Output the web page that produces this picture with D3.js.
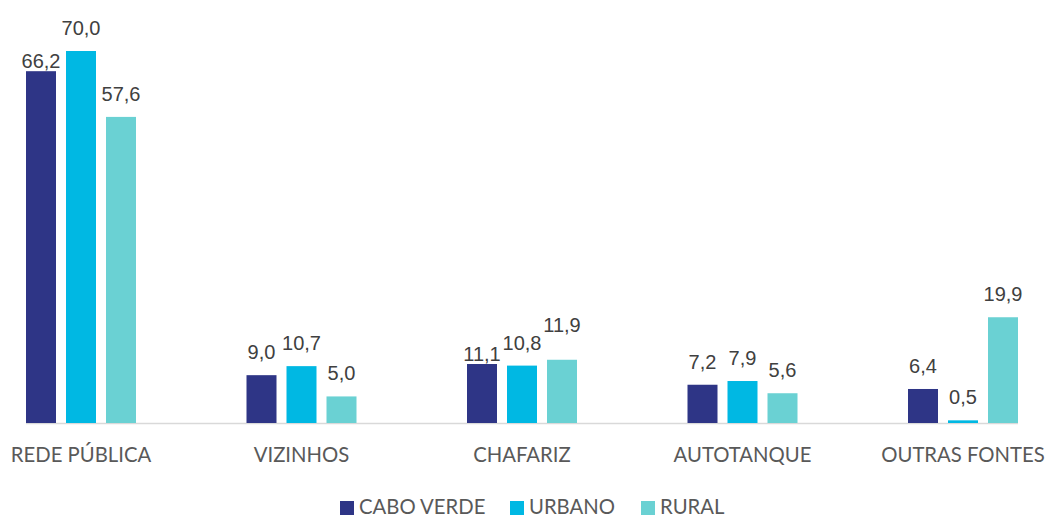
<!DOCTYPE html>
<html>
<head>
<meta charset="utf-8">
<title></title>
<style>
body { margin: 0; background: #fff; }
.val { fill: #404040; font: 20px "Liberation Sans", Arial, sans-serif; }
.cat { fill: #595959; font: 20.3px Lato, sans-serif; }
.leg { fill: #595959; font: 20.3px Lato, sans-serif; }
</style>
</head>
<body>
<script src="https://cdn.jsdelivr.net/npm/d3@7"></script>
<script>

var categories = ["REDE PÚBLICA", "VIZINHOS", "CHAFARIZ", "AUTOTANQUE", "OUTRAS FONTES"];
var series = ["CABO VERDE", "URBANO", "RURAL"];
var caboVerde = [66.2, 9.0, 11.1, 7.2, 6.4];
var urbano = [70.0, 10.7, 10.8, 7.9, 0.5];
var rural = [57.6, 5.0, 11.9, 5.6, 19.9];
// labels the original moved to dodge their neighbours
var lowLabels = ["REDE PÚBLICA|CABO VERDE", "CHAFARIZ|CABO VERDE"];
var highLabels = ["CHAFARIZ|RURAL"];

var colors = ["#2E3586", "#00B8E3", "#6AD1D3"];

var width = 1047, height = 518;

var rows = [];
categories.forEach(function(c, i) {
  rows.push({cat: c, values: [caboVerde[i], urbano[i], rural[i]]});
});

var svg = d3.select("body").append("svg")
    .attr("width", width)
    .attr("height", height);

var x0 = d3.scaleBand()
    .domain(categories)
    .range([-29.25, 1073.25])
    .paddingInner(0)
    .paddingOuter(0);

var x1 = d3.scaleBand()
    .domain(series)
    .range([x0.bandwidth() / 2 - 60, x0.bandwidth() / 2 + 60])
    .paddingInner(0.25)
    .paddingOuter(0.125);

var y = d3.scaleLinear()
    .domain([0, 70])
    .range([423, 51]);

// axis line
svg.append("line")
    .attr("x1", x0(categories[0]) + x1(series[0]))
    .attr("x2", x0(categories[categories.length - 1]) + x1(series[2]) + x1.bandwidth())
    .attr("y1", y(0) + 0.5)
    .attr("y2", y(0) + 0.5)
    .attr("stroke", "#d9d9d9")
    .attr("stroke-width", 1.5);

var group = svg.append("g").selectAll("g")
    .data(rows)
    .enter().append("g")
    .attr("transform", function(d) { return "translate(" + x0(d.cat) + ",0)"; });

function cells(d) {
  return d.values.map(function(v, j) { return {cat: d.cat, s: series[j], v: v, j: j}; });
}

group.selectAll("rect")
    .data(cells)
    .enter().append("rect")
    .attr("x", function(d) { return x1(d.s); })
    .attr("y", function(d) { return y(d.v); })
    .attr("width", x1.bandwidth())
    .attr("height", function(d) { return y(0) - y(d.v); })
    .attr("fill", function(d) { return colors[d.j]; });

group.selectAll("text.val")
    .data(cells)
    .enter().append("text")
    .attr("class", "val")
    .attr("text-anchor", "middle")
    .attr("x", function(d) { return x1(d.s) + x1.bandwidth() / 2; })
    .attr("y", function(d) {
      var key = d.cat + "|" + d.s;
      if (lowLabels.indexOf(key) >= 0) return y(d.v) - 3;
      if (highLabels.indexOf(key) >= 0) return y(d.v) - 28;
      return y(d.v) - 16;
    })
    .text(function(d) { return d3.format(".1f")(d.v).replace(".", ","); });

// category labels
svg.append("g").selectAll("text")
    .data(categories)
    .enter().append("text")
    .attr("class", "cat")
    .attr("text-anchor", "middle")
    .attr("x", function(d) { return x0(d) + x0.bandwidth() / 2; })
    .attr("y", 462)
    .text(function(d) { return d; });

// legend
var legX = [340, 510, 641];
var legend = svg.append("g").selectAll("g")
    .data(series)
    .enter().append("g")
    .attr("transform", function(d, i) { return "translate(" + legX[i] + ",501)"; });

legend.append("rect")
    .attr("width", 14)
    .attr("height", 14)
    .attr("fill", function(d, i) { return colors[i]; });

legend.append("text")
    .attr("class", "leg")
    .attr("x", 19)
    .attr("y", 13)
    .text(function(d) { return d; });

</script>
</body>
</html>
